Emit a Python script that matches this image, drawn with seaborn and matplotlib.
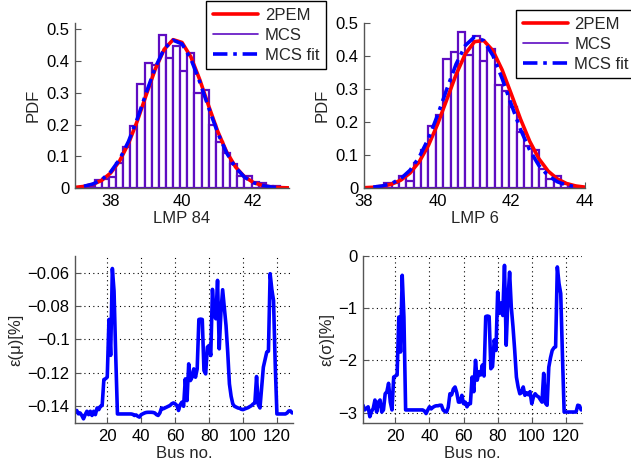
import numpy as np
import matplotlib
matplotlib.use("Agg")
import matplotlib.pyplot as plt
import seaborn as sns
from matplotlib.lines import Line2D

# ---- top-left: LMP 84 ----
lmp84_centers = np.round(np.arange(37.25, 42.70, 0.2), 2)
lmp84_heights = [0.004, 0.006, 0.024, 0.028, 0.035, 0.079, 0.129, 0.194, 0.328, 0.393,
                 0.388, 0.483, 0.409, 0.449, 0.368, 0.425, 0.300, 0.310, 0.200, 0.145,
                 0.110, 0.077, 0.037, 0.037, 0.018, 0.016, 0.007, 0.005]
pem84_x = np.round(np.arange(37.0, 43.01, 0.25), 2)
pem84_y = [0.0019, 0.0049, 0.0113, 0.0242, 0.0474, 0.0852, 0.1405, 0.2124, 0.2945, 0.3746,
           0.4369, 0.4674, 0.4586, 0.4127, 0.3406, 0.2578, 0.1789, 0.1139, 0.0665, 0.0356,
           0.0175, 0.0079, 0.0033, 0.0012, 0.0004]
fit84_x = np.round(np.arange(37.25, 42.76, 0.25), 2)
fit84_y = [0.0055, 0.0125, 0.0263, 0.0509, 0.0902, 0.1469, 0.2195, 0.3012, 0.3794, 0.4387,
           0.4658, 0.4540, 0.4063, 0.3337, 0.2517, 0.1742, 0.1108, 0.0646, 0.0346, 0.0170,
           0.0077, 0.0032, 0.0012]

# ---- top-right: LMP 6 ----
lmp6_centers = np.round(np.arange(38.45, 43.90, 0.2), 2)
lmp6_heights = [0.005, 0.014, 0.014, 0.036, 0.020, 0.077, 0.115, 0.187, 0.222, 0.391,
                0.412, 0.472, 0.402, 0.462, 0.386, 0.420, 0.311, 0.293, 0.245, 0.171,
                0.126, 0.116, 0.058, 0.026, 0.035, 0.012, 0.007, 0.004]
pem6_x = np.round(np.arange(38.0, 44.01, 0.25), 2)
pem6_y = [0.0008, 0.0022, 0.0052, 0.0116, 0.0238, 0.0453, 0.0797, 0.1294, 0.1941, 0.2688,
          0.3439, 0.4063, 0.4434, 0.4469, 0.4161, 0.3578, 0.2842, 0.2085, 0.1413, 0.0884,
          0.0511, 0.0273, 0.0135, 0.0061, 0.0026]
fit6_x = np.round(np.arange(38.25, 43.76, 0.25), 2)
fit6_y = [0.0026, 0.0062, 0.0139, 0.0286, 0.0539, 0.0938, 0.1502, 0.2213, 0.3004, 0.3755,
          0.4320, 0.4577, 0.4465, 0.4011, 0.3317, 0.2526, 0.1771, 0.1143, 0.0679, 0.0372,
          0.0188, 0.0087, 0.0037]

# ---- bottom: errors per bus ----
bus = np.arange(1, 130)
err_mu = [-0.1435, -0.1425, -0.1445, -0.1440, -0.1455, -0.1475, -0.1450, -0.1430, -0.1450, -0.1430,
          -0.1455, -0.1430, -0.1450, -0.1410, -0.1420, -0.1400, -0.1395, -0.1240, -0.1235, -0.1225,
          -0.0880, -0.1095, -0.0575, -0.0710, -0.1100, -0.1446, -0.1446, -0.1446, -0.1446, -0.1446,
          -0.1446, -0.1446, -0.1446, -0.1446, -0.1448, -0.1455, -0.1452, -0.1460, -0.1465, -0.1450,
          -0.1445, -0.1440, -0.1437, -0.1436, -0.1436, -0.1436, -0.1437, -0.1440, -0.1450, -0.1455,
          -0.1440, -0.1410, -0.1415, -0.1410, -0.1405, -0.1400, -0.1395, -0.1385, -0.1380, -0.1385,
          -0.1395, -0.1425, -0.1390, -0.1375, -0.1400, -0.1236, -0.1366, -0.1146, -0.1246, -0.1226,
          -0.1176, -0.1226, -0.1176, -0.0880, -0.0878, -0.0880, -0.1186, -0.1206, -0.1046, -0.1036,
          -0.1096, -0.0700, -0.0856, -0.0876, -0.0646, -0.1056, -0.0836, -0.0702, -0.0806, -0.0916,
          -0.1076, -0.1266, -0.1340, -0.1386, -0.1400, -0.1405, -0.1410, -0.1412, -0.1418, -0.1420,
          -0.1416, -0.1412, -0.1408, -0.1402, -0.1396, -0.1386, -0.1380, -0.1222, -0.1390, -0.1410,
          -0.1286, -0.1166, -0.1120, -0.1076, -0.1070, -0.0606, -0.0700, -0.0766, -0.1150, -0.1446,
          -0.1446, -0.1446, -0.1446, -0.1446, -0.1446, -0.1440, -0.1428, -0.1428, -0.1440]
err_sigma = [-2.86, -2.95, -2.92, -2.89, -3.08, -2.98, -2.92, -2.76, -2.99, -2.80,
             -2.76, -2.99, -2.95, -2.64, -2.60, -2.44, -2.80, -2.95, -2.32, -2.30,
             -2.28, -1.17, -1.84, -0.37, -1.17, -2.95, -2.95, -2.95, -2.95, -2.95,
             -2.95, -2.95, -2.95, -2.95, -2.95, -2.95, -2.97, -3.02, -2.95, -2.89,
             -2.93, -2.90, -2.88, -2.87, -2.87, -2.86, -2.86, -2.95, -2.98, -2.99,
             -2.90, -2.64, -2.66, -2.55, -2.51, -2.62, -2.80, -2.80, -2.67, -2.83,
             -2.80, -2.89, -2.83, -2.83, -2.32, -2.60, -2.00, -2.38, -2.22, -2.28,
             -2.09, -2.30, -1.16, -1.15, -1.16, -2.16, -2.12, -1.61, -1.81, -0.69,
             -1.10, -0.90, -1.14, -0.18, -1.71, -0.85, -0.31, -0.98, -1.36, -1.81,
             -2.32, -2.51, -2.64, -2.62, -2.51, -2.67, -2.62, -2.66, -2.60, -2.83,
             -2.70, -2.64, -2.68, -2.70, -2.75, -2.80, -2.25, -2.82, -2.86, -2.13,
             -1.95, -1.81, -1.76, -1.74, -0.21, -0.53, -0.72, -1.90, -2.99, -2.99,
             -2.99, -2.99, -2.99, -2.99, -2.99, -2.99, -2.86, -2.87, -2.95]

legend_labels = ["2PEM", "MCS", "MCS fit"]
pdf_ticks = [0, 0.1, 0.2, 0.3, 0.4, 0.5]
pdf_ticklabels = ["0", "0.1", "0.2", "0.3", "0.4", "0.5"]
mu_ticks = [-0.14, -0.12, -0.1, -0.08, -0.06]
mu_ticklabels = ["\u22120.14", "\u22120.12", "\u22120.1", "\u22120.08", "\u22120.06"]
sigma_ticks = [-3, -2, -1, 0]
sigma_ticklabels = ["\u22123", "\u22122", "\u22121", "0"]
bus_ticks = [20, 40, 60, 80, 100, 120]

sns.set_style("ticks")
plt.rcParams["font.family"] = ["Liberation Sans", "DejaVu Sans"]
plt.rcParams["font.size"] = 12

RED = "#ff0000"
BLUE = "#0000ff"
PURPLE = "#5e0cc2"
AXC = "#555555"
DASHDOT = (0, (4, 1.6, 1, 1.6))
FS = 12

fig = plt.figure(figsize=(6.31, 4.68), dpi=100)
ax_tl = fig.add_axes([0.1189, 0.5983, 0.3391, 0.3526])
ax_tr = fig.add_axes([0.5769, 0.5983, 0.3502, 0.3526])
ax_bl = fig.add_axes([0.1189, 0.0962, 0.3455, 0.3568])
ax_br = fig.add_axes([0.5753, 0.0962, 0.3471, 0.3568])


def style_axis(ax):
    sns.despine(ax=ax)
    for s in ["left", "bottom"]:
        ax.spines[s].set_color(AXC)
        ax.spines[s].set_linewidth(1.0)
    ax.tick_params(direction="in", length=4, width=0.8, color=AXC, labelcolor="black",
                   labelsize=FS, pad=4)


def pdf_panel(ax, centers, heights, px, py, fx, fy, xlim, ylim, xticks, xlabel):
    sns.histplot(x=centers, weights=heights, bins=len(centers),
                 binrange=(centers[0] - 0.1, centers[-1] + 0.1), stat="count",
                 color="white", edgecolor=PURPLE, linewidth=1.6, alpha=1, ax=ax)
    sns.lineplot(x=px, y=py, color=RED, lw=2.6, ax=ax)
    sns.lineplot(x=fx, y=fy, color=BLUE, lw=2.6, linestyle=DASHDOT, ax=ax)
    ax.set_xlim(*xlim)
    ax.set_ylim(*ylim)
    ax.set_xticks(xticks)
    ax.set_yticks(pdf_ticks)
    ax.set_yticklabels(pdf_ticklabels)
    ax.set_xlabel(xlabel, fontsize=FS, labelpad=2)
    ax.set_ylabel("PDF", fontsize=FS, labelpad=4)
    style_axis(ax)


pdf_panel(ax_tl, lmp84_centers, lmp84_heights, pem84_x, pem84_y, fit84_x, fit84_y,
          (37, 43), (0, 0.52), [38, 40, 42], "LMP 84")
pdf_panel(ax_tr, lmp6_centers, lmp6_heights, pem6_x, pem6_y, fit6_x, fit6_y,
          (38, 44), (0, 0.5), [38, 40, 42, 44], "LMP 6")

handles = [Line2D([], [], color=RED, lw=2.6),
           Line2D([], [], color=PURPLE, lw=1.2),
           Line2D([], [], color=BLUE, lw=2.6, linestyle=DASHDOT)]
for anchor in [(0.327, 0.998), (0.8177, 0.9786)]:
    leg = fig.legend(handles, legend_labels, loc="upper left", bbox_to_anchor=anchor,
                     frameon=True, fancybox=False, edgecolor="black", framealpha=1,
                     fontsize=FS, handlelength=2.7, handletextpad=0.4,
                     labelspacing=0.3, borderpad=0.4, borderaxespad=0)
    leg.get_frame().set_linewidth(1.0)


def err_panel(ax, y, ylim, ticks, ticklabels, ylabel):
    sns.lineplot(x=bus, y=y, color=BLUE, lw=2.6, ax=ax)
    ax.set_xlim(1, 129.5)
    ax.set_ylim(*ylim)
    ax.set_xticks(bus_ticks)
    ax.set_yticks(ticks)
    ax.set_yticklabels(ticklabels)
    ax.grid(True, color="black", linestyle=(0, (1, 3)), linewidth=0.8)
    ax.set_axisbelow(True)
    ax.set_xlabel("Bus no.", fontsize=FS, labelpad=2)
    ax.set_ylabel(ylabel, fontsize=FS, labelpad=3)
    style_axis(ax)


err_panel(ax_bl, err_mu, (-0.15, -0.05), mu_ticks, mu_ticklabels, "\u03b5(\u03bc)[%]")
err_panel(ax_br, err_sigma, (-3.2, 0), sigma_ticks, sigma_ticklabels, "\u03b5(\u03c3)[%]")

fig.savefig("out.png", dpi=100)
